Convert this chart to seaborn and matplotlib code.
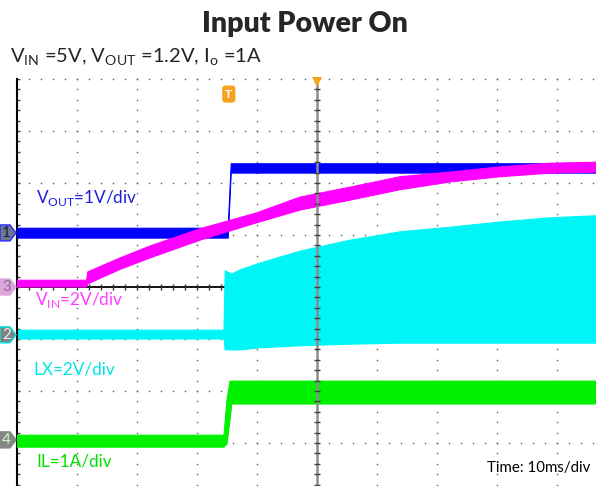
import numpy as np
import matplotlib
matplotlib.use("Agg")
import matplotlib.pyplot as plt
from matplotlib.patches import Polygon
import seaborn as sns

# ---------------------------------------------------------------------------
# Scope traces: time in ms (10 ms/div), amplitude in screen divisions
# ---------------------------------------------------------------------------
vout_t = [-50.0, -14.8, -14.3, 50.0]
vout_hi = [1.13, 1.13, 2.37, 2.37]
vout_lo = [0.94, 0.94, 2.19, 2.19]

vin_t = [-50.0, -38.4, -38.2, -33.0, -27.8, -19.5, -10.2, -2.8, 5.5, 13.8, 22.2, 30.5, 38.8, 46.5, 50.0]
vin_hi = [0.13, 0.13, 0.29, 0.55, 0.79, 1.12, 1.42, 1.73, 1.92, 2.12, 2.21, 2.31, 2.38, 2.40, 2.41]
vin_lo = [0.0, 0.0, 0.06, 0.33, 0.56, 0.90, 1.23, 1.48, 1.67, 1.87, 2.02, 2.12, 2.19, 2.21, 2.22]

lx_t = [-50.0, -15.5, -15.3, -14.2, -12.8, -9.5, -2.8, 5.5, 13.8, 22.2, 30.5, 38.8, 46.5, 50.0]
lx_hi = [-0.83, -0.83, 0.31, 0.25, 0.33, 0.46, 0.69, 0.90, 1.06, 1.15, 1.25, 1.33, 1.37, 1.38]
lx_lo = [-1.0, -1.0, -1.21, -1.21, -1.21, -1.17, -1.13, -1.10, -1.08, -1.08, -1.08, -1.08, -1.08, -1.08]

il_t = [-50.0, -15.5, -15.0, -14.5, -14.2, 50.0]
il_hi = [-2.85, -2.85, -2.17, -1.81, -1.81, -1.81]
il_lo = [-3.08, -3.08, -3.02, -2.56, -2.25, -2.25]

# channel tag: (number, reference level in div, face, edge, text colour)
channel_tags = [
    ("1", 1.04, "#6f7889", "#2a2aff", "#1a1a60"),
    ("3", 0.0, "#dca6dc", "#dca6dc", "#8c6a8c"),
    ("2", -0.92, "#7c8484", "#00e8e8", "#f0f0f0"),
    ("4", -2.94, "#858585", "#858585", "#c8ffc8"),
]

trigger_time = -14.7

BLUE = "#0000ff"
MAGENTA = "#ff00ff"
CYAN = "#00f6f6"
GREEN = "#00f000"
ORANGE = "#f7a21b"

sns.set_style("white")
plt.rcParams["font.family"] = ["Lato", "DejaVu Sans"]
plt.rcParams["mathtext.fontset"] = "custom"
plt.rcParams["mathtext.rm"] = "Lato"

fig = plt.figure(figsize=(5.96, 4.86), dpi=100)
# screen: 10 x 8 divisions, 60 px x 52 px per division, right part runs off the page
ax = fig.add_axes([17 / 596, -9 / 486, 600 / 596, 416 / 486])
ax.set_xlim(-50, 50)
ax.set_ylim(-4, 4)
ax.set_xticks([])
ax.set_yticks([])
for side in ["top", "right", "bottom"]:
    ax.spines[side].set_visible(False)
ax.spines["left"].set_color("black")
ax.spines["left"].set_linewidth(1.5)

# ---------------------------------------------------------------------------
# Graticule
# ---------------------------------------------------------------------------
dot_col = "#5a5a5a"
ys = np.arange(-4, 4.001, 0.2)
xs = np.arange(-50, 50.001, 2)
for gx in range(-40, 50, 10):
    if gx == 0:
        continue
    ax.plot(np.full_like(ys, gx), ys, ls="none", marker="s", ms=1.0,
            mew=0, color=dot_col, clip_on=False, zorder=1)
for gy in range(-3, 5):
    if gy == 0:
        continue
    ax.plot(xs, np.full_like(xs, gy), ls="none", marker="s", ms=1.0,
            mew=0, color=dot_col, clip_on=False, zorder=1)

ax.axvline(0, color="#8d8d8d", lw=1.8, zorder=6)
ax.axhline(0, color="black", lw=1.3, zorder=1)
ax.plot(np.zeros_like(ys), ys, ls="none", marker="_", ms=5, mew=1.0,
        color="#404040", zorder=6)
ax.plot(xs, np.zeros_like(xs), ls="none", marker="|", ms=5, mew=1.0,
        color="#303030", zorder=1)
ax.plot(np.full_like(ys, -50), ys, ls="none", marker="_", ms=5, mew=1.0,
        color="#404040", zorder=1)

# ---------------------------------------------------------------------------
# Traces
# ---------------------------------------------------------------------------
traces = [
    (lx_t, lx_lo, lx_hi, CYAN, 2),
    (il_t, il_lo, il_hi, GREEN, 3),
    (vout_t, vout_lo, vout_hi, BLUE, 4),
    (vin_t, vin_lo, vin_hi, MAGENTA, 5),
]
for t, lo, hi, col, z in traces:
    ax.fill_between(t, lo, hi, color=col, lw=0, zorder=z)
    sns.lineplot(x=t, y=hi, color=col, lw=0.8, estimator=None, sort=False,
                 ax=ax, zorder=z)
    sns.lineplot(x=t, y=lo, color=col, lw=0.8, estimator=None, sort=False,
                 ax=ax, zorder=z)

# ---------------------------------------------------------------------------
# Channel tags and trigger markers
# ---------------------------------------------------------------------------
px = 1 / 6.0      # ms per pixel
py = 1 / 52.0     # div per pixel
x0 = -50 - 17 * px
for num, lvl, fc, ec, tc in channel_tags:
    shape = [(x0, lvl - 8 * py), (x0 + 10 * px, lvl - 8 * py),
             (x0 + 16 * px, lvl), (x0 + 10 * px, lvl + 8 * py),
             (x0, lvl + 8 * py)]
    ax.add_patch(Polygon(shape, closed=True, fc=fc, ec=ec, lw=1.0,
                         clip_on=False, zorder=8))
    ax.text(x0 + 6.5 * px, lvl, num, ha="center", va="center", fontsize=11,
            color=tc, clip_on=False, zorder=9)

ax.text(trigger_time, 3.71, "T", ha="center", va="center", fontsize=8.5,
        fontweight="bold", color="white", zorder=9,
        bbox=dict(boxstyle="round,pad=0.2", fc=ORANGE, ec=ORANGE))
ax.plot(0, 3.95, marker="v", ms=7, color=ORANGE, mew=0, clip_on=False, zorder=9)

# ---------------------------------------------------------------------------
# Labels
# ---------------------------------------------------------------------------
ax.text(-46.8, 1.62, r"V$_{\mathregular{OUT}}$=1V/div", color="#1c1ce0",
        fontsize=12.3, va="baseline", zorder=10)
ax.text(-47.0, -0.35, r"V$_{\mathregular{IN}}$=2V/div", color="#ff3cff",
        fontsize=12.3, va="baseline", zorder=10)
ax.text(-47.3, -1.69, "LX=2V/div", color="#00e6e6", fontsize=12.3,
        va="baseline", zorder=10)
ax.text(-46.7, -3.46, "IL=1A/div", color="#00e000", fontsize=12.3,
        va="baseline", zorder=10)
ax.text(28.3, -3.56, "Time: 10ms/div", color="black", fontsize=10.8,
        va="baseline", zorder=10)

fig.text(0.512, 0.934, "Input Power On", ha="center", va="baseline",
         fontsize=20.5, fontweight="heavy")
fig.text(0.017, 0.870,
         r"V$_{\mathregular{IN}}$ =5V, V$_{\mathregular{OUT}}$ =1.2V, I$_{\mathregular{o}}$ =1A",
         ha="left", va="baseline", fontsize=14.5)

fig.savefig("out.png", dpi=100)
